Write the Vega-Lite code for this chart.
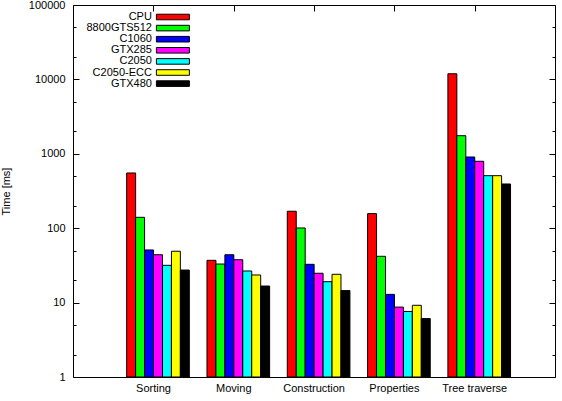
{
  "$schema": "https://vega.github.io/schema/vega-lite/v6.json",
  "width": 482,
  "height": 372,
  "autosize": "none",
  "padding": {"left": 73, "top": 5, "right": 7, "bottom": 24},
  "background": "white",
  "config": {
    "font": "Liberation Sans",
    "view": {"stroke": "black", "strokeWidth": 1},
    "axis": {"grid": false, "domain": false, "labelFontSize": 11, "labelColor": "black", "tickColor": "black", "titleColor": "black", "titleFontWeight": "normal", "titleFontSize": 11, "labelFont": "Liberation Sans", "titleFont": "Liberation Sans"}
  },
  "data": {"values": [
    {"task": "Sorting", "gpu": "CPU", "time": 552},
    {"task": "Sorting", "gpu": "8800GTS512", "time": 140},
    {"task": "Sorting", "gpu": "C1060", "time": 51},
    {"task": "Sorting", "gpu": "GTX285", "time": 44},
    {"task": "Sorting", "gpu": "C2050", "time": 31.7},
    {"task": "Sorting", "gpu": "C2050-ECC", "time": 49},
    {"task": "Sorting", "gpu": "GTX480", "time": 27.4},
    {"task": "Moving", "gpu": "CPU", "time": 37},
    {"task": "Moving", "gpu": "8800GTS512", "time": 33},
    {"task": "Moving", "gpu": "C1060", "time": 44},
    {"task": "Moving", "gpu": "GTX285", "time": 37.7},
    {"task": "Moving", "gpu": "C2050", "time": 26.6},
    {"task": "Moving", "gpu": "C2050-ECC", "time": 23.5},
    {"task": "Moving", "gpu": "GTX480", "time": 16.7},
    {"task": "Construction", "gpu": "CPU", "time": 169},
    {"task": "Construction", "gpu": "8800GTS512", "time": 100.7},
    {"task": "Construction", "gpu": "C1060", "time": 32.7},
    {"task": "Construction", "gpu": "GTX285", "time": 24.8},
    {"task": "Construction", "gpu": "C2050", "time": 19.1},
    {"task": "Construction", "gpu": "C2050-ECC", "time": 24},
    {"task": "Construction", "gpu": "GTX480", "time": 14.5},
    {"task": "Properties", "gpu": "CPU", "time": 157},
    {"task": "Properties", "gpu": "8800GTS512", "time": 41.9},
    {"task": "Properties", "gpu": "C1060", "time": 12.9},
    {"task": "Properties", "gpu": "GTX285", "time": 8.7},
    {"task": "Properties", "gpu": "C2050", "time": 7.6},
    {"task": "Properties", "gpu": "C2050-ECC", "time": 9.2},
    {"task": "Properties", "gpu": "GTX480", "time": 6.1},
    {"task": "Tree traverse", "gpu": "CPU", "time": 11900},
    {"task": "Tree traverse", "gpu": "8800GTS512", "time": 1750},
    {"task": "Tree traverse", "gpu": "C1060", "time": 906},
    {"task": "Tree traverse", "gpu": "GTX285", "time": 793},
    {"task": "Tree traverse", "gpu": "C2050", "time": 508},
    {"task": "Tree traverse", "gpu": "C2050-ECC", "time": 508},
    {"task": "Tree traverse", "gpu": "GTX480", "time": 393}
  ]},
  "encoding": {
    "x": {"field": "task", "type": "nominal", "sort": ["Sorting", "Moving", "Construction", "Properties", "Tree traverse"],
      "scale": {"paddingInner": 0.22, "paddingOuter": 0.611, "align": 0.547}},
    "xOffset": {"field": "gpu", "type": "nominal", "sort": ["CPU", "8800GTS512", "C1060", "GTX285", "C2050", "C2050-ECC", "GTX480"], "scale": {"paddingInner": 0, "paddingOuter": 0}},
    "y": {"field": "time", "type": "quantitative", "scale": {"type": "log", "domain": [1, 100000]}},
    "y2": {"datum": 1}
  },
  "layer": [
    {
      "mark": {"type": "bar", "stroke": "black", "strokeWidth": 1, "opacity": 1},
      "encoding": {
        "x": {"field": "task", "type": "nominal", "sort": ["Sorting", "Moving", "Construction", "Properties", "Tree traverse"],
          "axis": {"orient": "bottom", "title": null, "labelAngle": 0, "ticks": false, "labelPadding": 5, "labelOffset": -4.5}},
        "y": {"field": "time", "type": "quantitative", "scale": {"type": "log", "domain": [1, 100000]},
          "axis": {"orient": "left", "title": "Time [ms]", "titlePadding": 17, "offset": -6, "tickSize": 6,
            "values": [1, 2, 5, 10, 20, 50, 100, 200, 500, 1000, 2000, 5000, 10000, 20000, 50000, 100000],
            "labelExpr": "(datum.value == 1 || datum.value == 10 || datum.value == 100 || datum.value == 1000 || datum.value == 10000 || datum.value == 100000) ? datum.value : ''",
            "tickDash": {"condition": {"test": "datum.value == 1 || datum.value == 10 || datum.value == 100 || datum.value == 1000 || datum.value == 10000 || datum.value == 100000", "value": [6, 0]}, "value": [0, 3, 3, 0]},
            "labelPadding": 8}},
        "color": {"field": "gpu", "type": "nominal",
          "sort": ["CPU", "8800GTS512", "C1060", "GTX285", "C2050", "C2050-ECC", "GTX480"],
          "scale": {"domain": ["CPU", "8800GTS512", "C1060", "GTX285", "C2050", "C2050-ECC", "GTX480"],
            "range": ["#ff0000", "#00ff00", "#0000ff", "#ff00ff", "#00ffff", "#ffff00", "#000000"]},
          "legend": {"orient": "none", "legendX": 94.4, "legendY": 6.5, "title": null, "padding": 0,
            "symbolType": "M-5.5,-0.93L5.5,-0.93L5.5,0.93L-5.5,0.93Z", "symbolSize": 36,
            "symbolStrokeColor": "black", "symbolStrokeWidth": 1, "symbolOpacity": 1,
            "labelAlign": "right", "labelOffset": -26.5, "labelFontSize": 11, "labelColor": "black",
            "labelFont": "Liberation Sans", "rowPadding": -0.9}}
      }
    },
    {
      "mark": {"type": "bar", "opacity": 0},
      "encoding": {
        "x": {"field": "task", "type": "nominal", "sort": ["Sorting", "Moving", "Construction", "Properties", "Tree traverse"],
          "axis": {"orient": "top", "title": null, "labels": false, "tickSize": 6, "offset": -6, "tickOffset": -4.5}},
        "y": {"field": "time", "type": "quantitative", "scale": {"type": "log", "domain": [1, 100000]},
          "axis": {"orient": "right", "title": null, "labels": false, "offset": -6, "tickSize": 6,
            "values": [1, 2, 5, 10, 20, 50, 100, 200, 500, 1000, 2000, 5000, 10000, 20000, 50000, 100000],
            "tickDash": {"condition": {"test": "datum.value == 1 || datum.value == 10 || datum.value == 100 || datum.value == 1000 || datum.value == 10000 || datum.value == 100000", "value": [6, 0]}, "value": [0, 3, 3, 0]}}}
      }
    }
  ],
  "resolve": {"axis": {"x": "independent", "y": "independent"}}
}
